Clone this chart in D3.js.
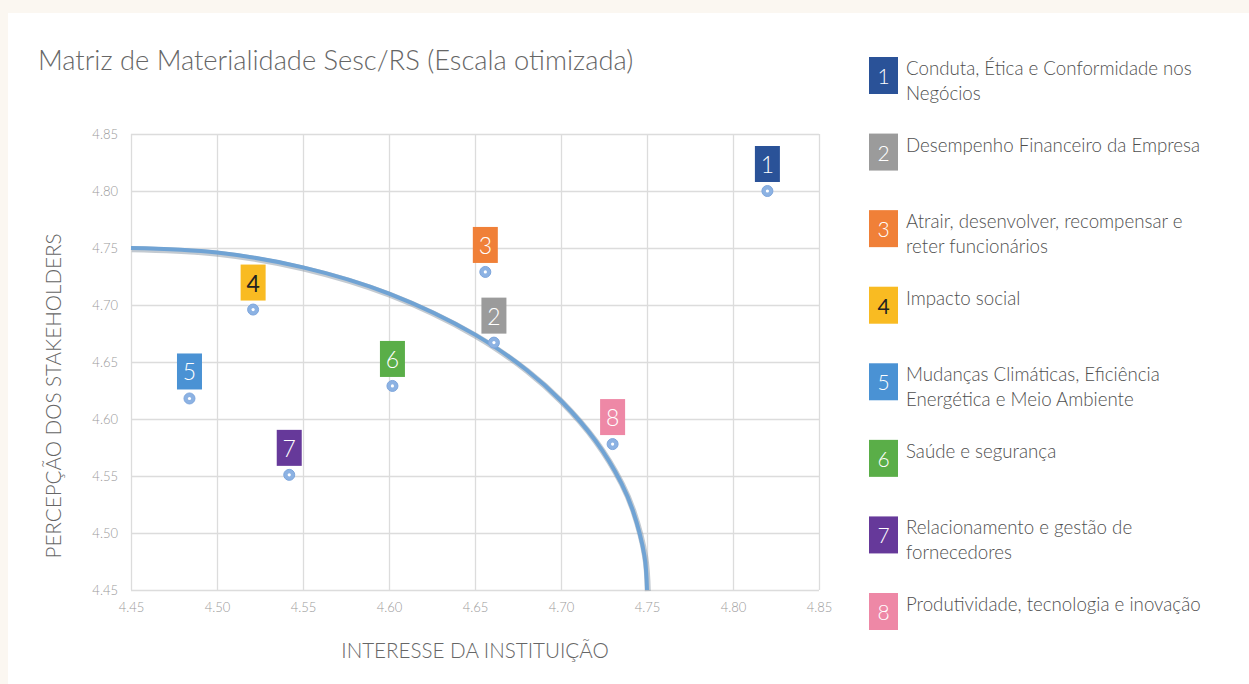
<!DOCTYPE html>
<html>
<head>
<meta charset="utf-8">
<script src="https://cdn.jsdelivr.net/npm/d3@7"></script>
<style>
  html, body { margin: 0; padding: 0; background: #fbf7f1; }
  svg { display: block; }
  text { font-family: "Lato", "Open Sans", sans-serif; }
</style>
</head>
<body>
<svg id="chart" width="1249" height="684"></svg>
<script>
// ---------- data ----------
const ids = [1, 2, 3, 4, 5, 6, 7, 8];
const xValues = [4.820, 4.661, 4.656, 4.521, 4.484, 4.602, 4.542, 4.730];
const yValues = [4.800, 4.667, 4.729, 4.696, 4.618, 4.629, 4.551, 4.578];
const itemColors = ["#2a5298", "#9b9b9b", "#f08038", "#f9bb22", "#4a92d4", "#5aae48", "#66399a", "#ee88a6"];
const itemTextColors = ["#ffffff", "#ffffff", "#ffffff", "#222222", "#ffffff", "#ffffff", "#ffffff", "#ffffff"];
const legendLines = [
  ["Conduta, Ética e Conformidade nos", "Negócios"],
  ["Desempenho Financeiro da Empresa"],
  ["Atrair, desenvolver, recompensar e", "reter funcionários"],
  ["Impacto social"],
  ["Mudanças Climáticas, Eficiência", "Energética e Meio Ambiente"],
  ["Saúde e segurança"],
  ["Relacionamento e gestão de", "fornecedores"],
  ["Produtividade, tecnologia e inovação"]
];
const xTicks = [4.45, 4.50, 4.55, 4.60, 4.65, 4.70, 4.75, 4.80, 4.85];
const yTicks = [4.45, 4.50, 4.55, 4.60, 4.65, 4.70, 4.75, 4.80, 4.85];
// materiality boundary curve
const curveX = [4.450, 4.500, 4.550, 4.600, 4.650, 4.680, 4.700, 4.720, 4.735, 4.7417, 4.7485, 4.750];
const curveY = [4.750, 4.746, 4.733, 4.710, 4.674, 4.643, 4.616, 4.581, 4.544, 4.520, 4.480, 4.450];

const titleText = "Matriz de Materialidade Sesc/RS (Escala otimizada)";
const xTitle = "INTERESSE DA INSTITUIÇÃO";
const yTitle = "PERCEPÇÃO DOS STAKEHOLDERS";

// ---------- layout ----------
const svg = d3.select("#chart");
const plotL = 131, plotR = 819, plotT = 134, plotB = 590;

svg.append("rect").attr("x", 8).attr("y", 13).attr("width", 1241).attr("height", 671).attr("fill", "#ffffff");

const x = d3.scaleLinear().domain([4.45, 4.85]).range([plotL, plotR]);
const y = d3.scaleLinear().domain([4.45, 4.85]).range([plotB, plotT]);

// title
svg.append("text").attr("x", 38).attr("y", 70)
  .attr("font-size", 27.3).attr("font-weight", 300).attr("fill", "#666666")
  .text(titleText);

// grid + axes
const gx = svg.append("g").attr("transform", `translate(0,${plotB})`)
  .call(d3.axisBottom(x).tickValues(xTicks).tickSize(-(plotB - plotT)).tickPadding(13).tickFormat(d3.format(".2f")));
const gy = svg.append("g").attr("transform", `translate(${plotL},0)`)
  .call(d3.axisLeft(y).tickValues(yTicks).tickSize(-(plotR - plotL)).tickPadding(13).tickFormat(d3.format(".2f")));
[gx, gy].forEach(g => {
  g.select(".domain").remove();
  g.selectAll(".tick line").attr("stroke", "#dcdcdc").attr("stroke-width", 1.3);
  g.selectAll(".tick text").attr("fill", "#999999").attr("font-size", 13)
    .attr("font-family", "Lato, 'Open Sans', sans-serif").attr("font-weight", 300);
});

// axis titles
svg.append("text").attr("x", 475).attr("y", 658).attr("text-anchor", "middle")
  .attr("font-size", 20.6).attr("font-weight", 300).attr("fill", "#666666").text(xTitle);
svg.append("text").attr("transform", "translate(61,396) rotate(-90)").attr("text-anchor", "middle")
  .attr("font-size", 20.6).attr("font-weight", 300).attr("fill", "#666666").text(yTitle);

// boundary curve
const curvePts = curveX.map((cx, i) => [cx, curveY[i]]);
const line = d3.line().x(d => x(d[0])).y(d => y(d[1])).curve(d3.curveCatmullRom.alpha(0.5));
svg.append("path").attr("d", line(curvePts)).attr("fill", "none")
  .attr("stroke", "#8795a3").attr("stroke-opacity", 0.5).attr("stroke-width", 6)
  .attr("transform", "translate(0.8,1.2)");
svg.append("path").attr("d", line(curvePts)).attr("fill", "none")
  .attr("stroke", "#70a3d4").attr("stroke-width", 4).attr("stroke-linecap", "butt");

// points + labels
const pts = svg.append("g").selectAll("g").data(ids).join("g")
  .attr("transform", (d, i) => `translate(${x(xValues[i])},${y(yValues[i])})`);
pts.append("rect").attr("x", -12.5).attr("y", -45).attr("width", 25).attr("height", 36)
  .attr("fill", (d, i) => itemColors[i]);
pts.append("text").attr("x", 0).attr("y", -18).attr("text-anchor", "middle")
  .attr("font-size", 23).attr("font-weight", (d, i) => i === 3 ? 400 : 300)
  .attr("fill", (d, i) => itemTextColors[i]).text(d => d);
pts.append("circle").attr("r", 5.5).attr("fill", "#8cb2e3").attr("stroke", "#7ea6dc").attr("stroke-width", 1);
pts.append("circle").attr("r", 1.6).attr("fill", "#ffffff");

// legend
const legY = d3.scalePoint().domain(ids).range([57, 593]);
const leg = svg.append("g").selectAll("g").data(ids).join("g")
  .attr("transform", d => `translate(869,${legY(d)})`);
leg.append("rect").attr("width", 29).attr("height", 37).attr("fill", (d, i) => itemColors[i]);
leg.append("text").attr("x", 14.5).attr("y", 27).attr("text-anchor", "middle")
  .attr("font-size", 21).attr("font-weight", (d, i) => i === 3 ? 400 : 300)
  .attr("fill", (d, i) => itemTextColors[i]).text(d => d);
leg.each(function(d, i) {
  const t = d3.select(this).append("text").attr("x", 37).attr("y", 18)
    .attr("font-size", 18.7).attr("font-weight", 300).attr("fill", "#4f4f4f");
  legendLines[i].forEach((ln, j) => {
    t.append("tspan").attr("x", 37).attr("y", 18 + j * 25).text(ln);
  });
});
</script>
</body>
</html>
